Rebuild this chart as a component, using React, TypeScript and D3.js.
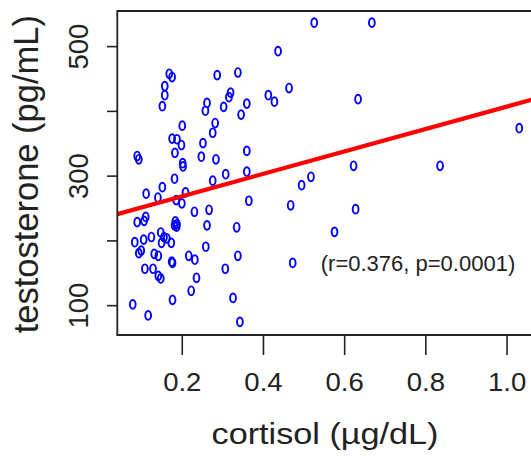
import React from "react";
import * as d3 from "d3";

const cortisol = [
  0.525, 0.667, 0.436, 0.286, 0.337, 0.168, 0.175, 0.157, 0.157, 0.151,
  0.463, 0.412, 0.427, 0.633, 0.319, 0.315, 0.302, 0.261, 0.257, 0.359,
  0.345, 0.281, 0.275, 0.2, 0.175, 0.187, 0.198, 0.182, 0.251, 0.247,
  0.283, 0.359, 0.089, 0.093, 0.201, 0.202, 1.03, 0.835, 0.622, 0.359,
  0.307, 0.275, 0.181, 0.517, 0.494, 0.151, 0.111, 0.14, 0.208, 0.185,
  0.199, 0.364, 0.467, 0.23, 0.266, 0.627, 0.11, 0.106, 0.089, 0.183,
  0.187, 0.181, 0.186, 0.261, 0.334, 0.575, 0.083, 0.105, 0.124, 0.147,
  0.155, 0.149, 0.162, 0.173, 0.093, 0.099, 0.131, 0.141, 0.258, 0.174,
  0.176, 0.216, 0.231, 0.337, 0.472, 0.108, 0.128, 0.141, 0.147, 0.235,
  0.306, 0.222, 0.176, 0.325, 0.078, 0.116, 0.342,
];
const testosterone = [
  537, 537, 493, 456, 460, 458, 453, 439, 425, 408,
  436, 425, 415, 419, 429, 422, 407, 413, 401, 412,
  395, 382, 367, 378, 358, 357, 348, 336, 351, 330,
  326, 339, 331, 326, 320, 315, 374, 316, 316, 307,
  303, 293, 296, 299, 286, 283, 273, 267, 275, 263,
  258, 262, 255, 245, 248, 249, 237, 231, 229, 230,
  226, 224, 222, 224, 221, 214, 198, 202, 206, 213,
  206, 197, 204, 197, 181, 185, 180, 177, 191, 168,
  166, 177, 171, 177, 166, 157, 157, 146, 142, 143,
  157, 123, 109, 112, 102, 85, 75,
];
const xTicks = [0.2, 0.4, 0.6, 0.8, 1.0];
const yTicks = [100, 200, 300, 400, 500];
const yLabelTicks = [100, 300, 500];
const fitIntercept = 234.3;
const fitSlope = 173.2;
const xTitle = "cortisol (\u00b5g/dL)";
const yTitle = "testosterone (pg/mL)";
const annotation = "(r=0.376, p=0.0001)";

export default function App() {
  const W = 531, H = 456;
  const left = 117.3, top = 11, bottom = 335;
  const x = d3.scaleLinear().domain([0.04, 1.1]).range([left, left + 406 * 1.06]);
  const y = d3.scaleLinear().domain([54.7, 555]).range([bottom, top]);
  const right = x(1.1);
  const xd = x.domain();
  const linePath = d3.line<number>()
    .x((d) => x(d))
    .y((d) => y(fitIntercept + fitSlope * d))(xd);
  const font = "'Liberation Sans', Arial, Helvetica, sans-serif";
  return (
    <svg width={W} height={H} style={{ display: "block", position: "absolute", left: 0, top: 0 }}>
      <rect width={W} height={H} fill="#fff" />
      <defs>
        <clipPath id="plotclip">
          <rect x={left} y={top} width={right - left} height={bottom - top} />
        </clipPath>
      </defs>
      <g clipPath="url(#plotclip)">
        {cortisol.map((c, i) => (
          <ellipse key={i} cx={x(c)} cy={y(testosterone[i])} rx={2.9} ry={4.4}
            fill="none" stroke="#0000ff" strokeWidth={1.9} />
        ))}
        <path d={linePath || ""} stroke="#ff0000" strokeWidth={4.2} fill="none" />
      </g>
      <path d={`M${right},${top}H${left}V${bottom}H${right}`} fill="none" stroke="#222" strokeWidth={1.8} />
      {xTicks.map((t) => (
        <g key={t}>
          <line x1={x(t)} x2={x(t)} y1={bottom} y2={355} stroke="#222" strokeWidth={1.6} />
          <text transform={`translate(${x(t)},391) scale(1.1,1)`} textAnchor="middle"
            fontFamily={font} fontSize={25} fill="#222">{t.toFixed(1)}</text>
        </g>
      ))}
      {yTicks.map((t) => (
        <line key={t} x1={107} x2={left} y1={y(t)} y2={y(t)} stroke="#222" strokeWidth={1.6} />
      ))}
      {yLabelTicks.map((t) => (
        <text key={t} transform={`translate(88.3,${y(t)}) rotate(-90)`} textAnchor="middle"
          fontFamily={font} fontSize={27.5} fill="#222">{t}</text>
      ))}
      <text transform={`translate(325,444) scale(1.18,1)`} textAnchor="middle"
        fontFamily={font} fontSize={29} fill="#222">{xTitle}</text>
      <text transform={`translate(37.8,174.2) rotate(-90)`} textAnchor="middle"
        fontFamily={font} fontSize={34.5} fill="#222">{yTitle}</text>
      <text x={418} y={270.7} textAnchor="middle" fontFamily={font} fontSize={22} fill="#222">{annotation}</text>
    </svg>
  );
}
